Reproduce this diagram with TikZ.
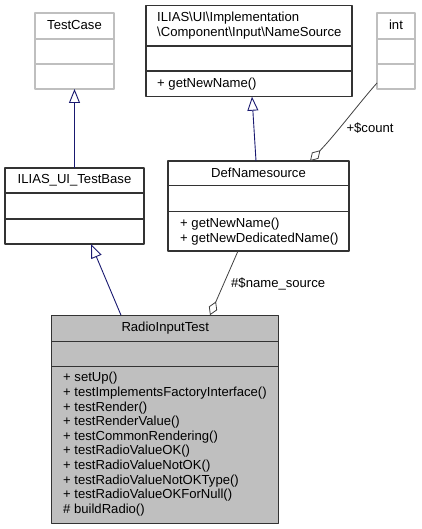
\documentclass[tikz,border=0pt]{standalone}
\usepackage{fontspec}
\setmainfont{Liberation Sans}
\usetikzlibrary{arrows.meta, calc}
\definecolor{inheritblue}{HTML}{191970}
\definecolor{aggrgray}{HTML}{404040}
\definecolor{classfill}{HTML}{BFBFBF}

\begin{document}
\begin{tikzpicture}[x=1pt, y=-1pt, line join=round,
		font=\fontsize{13.1}{14.6}\selectfont,
		classbox/.style={draw=black!80, line width=1.1pt, fill=white, inner sep=0pt, outer sep=0pt},
		extbox/.style={classbox, draw=classfill},
		divline/.style={draw=black!80, line width=1.1pt},
		extdiv/.style={divline, draw=classfill},
		member/.style={anchor=base west, inner sep=0pt},
		title/.style={anchor=base, inner sep=0pt},
		inherit/.style={draw=inheritblue, line width=0.9pt,
			-{Triangle[open, length=14pt, width=11pt, fill=white]}},
		aggreg/.style={draw=aggrgray, line width=0.8pt,
			{Diamond[open, length=15pt, width=9pt, fill=white]}-}]
	
	\useasboundingbox (0,0) rectangle (421,529);
	
	%========================
	% Top row: base classes
	%========================
	% TestCase (external, grey border)
	\node[extbox, minimum width=79, minimum height=76] (testcase) at (74.5,51) {};
	\draw[extdiv] ([yshift=-26]testcase.north west) -- ([yshift=-26]testcase.north east);
	\draw[extdiv] ([yshift=-51]testcase.north west) -- ([yshift=-51]testcase.north east);
	\node[title] (testcase-t) at ([yshift=-16.5]testcase.north) {TestCase};
	
	% NameSource interface
	\node[classbox, minimum width=206, minimum height=91] (namesrc) at (249,51.2) {};
	\draw[divline] ([yshift=-40.3]namesrc.north west) -- ([yshift=-40.3]namesrc.north east);
	\draw[divline] ([yshift=-65.3]namesrc.north west) -- ([yshift=-65.3]namesrc.north east);
	\node[member] (namesrc-t1) at ([xshift=11, yshift=-16.1]namesrc.north west) {ILIAS\textbackslash UI\textbackslash Implementation};
	\node[member] (namesrc-t2) at ([xshift=11, yshift=-31.1]namesrc.north west) {\textbackslash Component\textbackslash Input\textbackslash NameSource};
	\node[member] (namesrc-m1) at ([xshift=11, yshift=-82.1]namesrc.north west) {+ getNewName()};
	
	% int (external, grey border)
	\node[extbox, minimum width=38, minimum height=76] (int) at (396,51) {};
	\draw[extdiv] ([yshift=-26]int.north west) -- ([yshift=-26]int.north east);
	\draw[extdiv] ([yshift=-51]int.north west) -- ([yshift=-51]int.north east);
	\node[title] (int-t) at ([yshift=-16.5]int.north) {int};
	
	%========================
	% Middle row
	%========================
	\node[classbox, minimum width=139, minimum height=76] (testbase) at (74.5,206) {};
	\draw[divline] ([yshift=-25]testbase.north west) -- ([yshift=-25]testbase.north east);
	\draw[divline] ([yshift=-51]testbase.north west) -- ([yshift=-51]testbase.north east);
	\node[title] (testbase-t) at ([yshift=-15.8]testbase.north) {ILIAS\_UI\_TestBase};
	
	\node[classbox, minimum width=181, minimum height=90] (defns) at (258.5,206) {};
	\draw[divline] ([yshift=-24.6]defns.north west) -- ([yshift=-24.6]defns.north east);
	\draw[divline] ([yshift=-50.6]defns.north west) -- ([yshift=-50.6]defns.north east);
	\node[title] (defns-t) at ([yshift=-16.5]defns.north) {DefNamesource};
	\node[member] (defns-m1) at ([xshift=12, yshift=-66.1]defns.north west) {+ getNewName()};
	\node[member] (defns-m2) at ([xshift=12, yshift=-81.5]defns.north west) {+ getNewDedicatedName()};
	
	%========================
	% Bottom: the test class
	%========================
	\node[classbox, fill=classfill, minimum width=227, minimum height=208] (radio) at (165.2,419.2) {};
	\draw[divline] ([yshift=-26]radio.north west) -- ([yshift=-26]radio.north east);
	\draw[divline] ([yshift=-51]radio.north west) -- ([yshift=-51]radio.north east);
	\node[title] (radio-t) at ([yshift=-16]radio.north) {RadioInputTest};
	\foreach \m [count=\i from 0] in {+ setUp(), + testImplementsFactoryInterface(),
		+ testRender(), + testRenderValue(), + testCommonRendering(),
		+ testRadioValueOK(), + testRadioValueNotOK(), + testRadioValueNotOKType(),
		+ testRadioValueOKForNull(), \# buildRadio()}
	\node[member] (radio-m\i) at ([xshift=11.3, yshift=-66.7-14.6*\i]radio.north west) {\m};
	
	%========================
	% Connectors
	%========================
	% inheritance
	\draw[inherit] (testbase.north) -- (testcase.south);
	\draw[inherit] ([xshift=-2.5]defns.north) -- ([xshift=3]namesrc.south);
	\draw[inherit] ([xshift=-44.2]radio.north) -- ([xshift=16.5]testbase.south);
	
	% aggregation (members)
	\draw[aggreg] ([xshift=51.5]defns.north) .. controls (336,134) and (360,102) .. ([yshift=-32]int.west);
	\node[inner sep=0pt] (count-l) at (370,128) {+\$count};
	\draw[aggreg] ([xshift=44.8]radio.north) -- ([xshift=-20.5]defns.south);
	\node[member] (namesource-l) at (231,287.5) {\#\$name\_source};
	
\end{tikzpicture}
\end{document}
